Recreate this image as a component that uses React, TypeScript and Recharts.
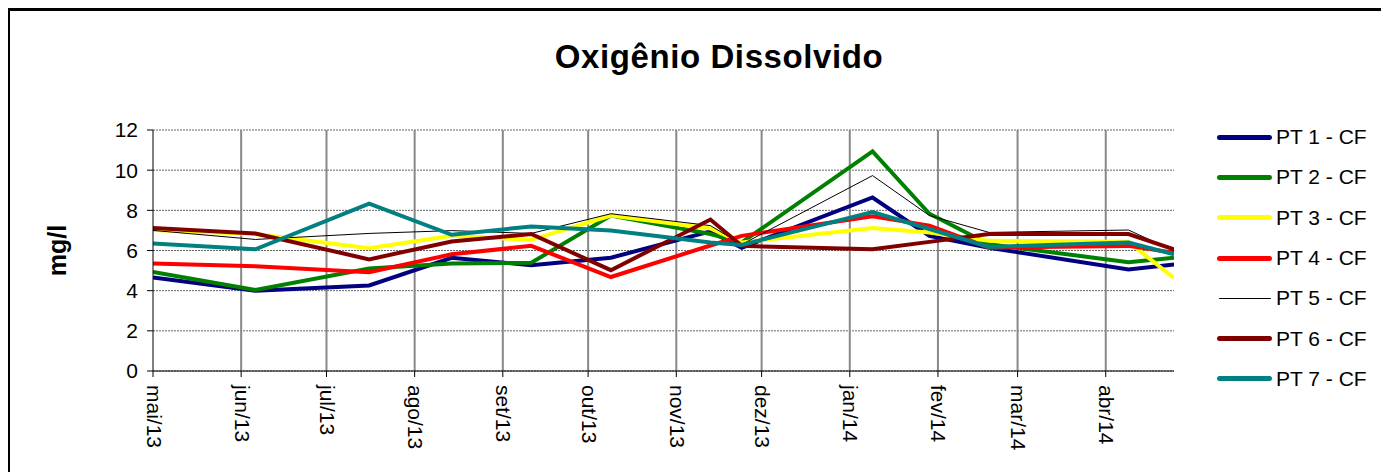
import { LineChart, Line, XAxis, YAxis, CartesianGrid, ReferenceLine } from 'recharts'

// days counted from 01/05/2013
const sampleDays = [0, 36, 76, 105, 133, 161, 196, 207, 253, 273, 294, 343, 359]

const monthTicks = [0, 31, 61, 92, 123, 153, 184, 214, 245, 276, 304, 335]
const monthLabels = ['mai/13', 'jun/13', 'jul/13', 'ago/13', 'set/13', 'out/13', 'nov/13', 'dez/13', 'jan/14', 'fev/14', 'mar/14', 'abr/14']

const yTicks = [0, 2, 4, 6, 8, 10, 12]

const pt1 = [4.66, 4.0, 4.26, 5.64, 5.27, 5.64, 6.95, 6.14, 8.64, 6.73, 6.14, 5.05, 5.3]
const pt2 = [4.93, 4.04, 5.1, 5.35, 5.39, 7.74, 6.82, 6.4, 10.94, 7.83, 6.31, 5.42, 5.64]
const pt3 = [7.02, 6.82, 6.11, 6.73, 6.53, 7.74, 7.1, 6.4, 7.12, 6.9, 6.48, 6.43, 4.63]
const pt4 = [5.35, 5.22, 4.92, 5.81, 6.23, 4.68, 6.25, 6.73, 7.71, 7.24, 6.14, 6.23, 5.89]
const pt5 = [7.0, 6.55, 6.85, 6.99, 6.85, 7.83, 7.24, 6.3, 9.73, 7.74, 6.9, 7.02, 5.98]
const pt6 = [7.12, 6.85, 5.56, 6.45, 6.82, 5.02, 7.54, 6.23, 6.06, 6.43, 6.82, 6.82, 6.06]
const pt7 = [6.35, 6.06, 8.33, 6.78, 7.2, 6.99, 6.4, 6.28, 7.91, 7.07, 6.18, 6.4, 5.81]

const series = [
  { key: 'pt1', name: 'PT 1 - CF', values: pt1, color: '#000080', width: 4 },
  { key: 'pt2', name: 'PT 2 - CF', values: pt2, color: '#008000', width: 4 },
  { key: 'pt3', name: 'PT 3 - CF', values: pt3, color: '#FFFF00', width: 4 },
  { key: 'pt4', name: 'PT 4 - CF', values: pt4, color: '#FF0000', width: 4 },
  { key: 'pt5', name: 'PT 5 - CF', values: pt5, color: '#000000', width: 1 },
  { key: 'pt6', name: 'PT 6 - CF', values: pt6, color: '#800000', width: 4 },
  { key: 'pt7', name: 'PT 7 - CF', values: pt7, color: '#008080', width: 4 },
]

const chartData = sampleDays.map((day, i) => {
  const row: any = { day }
  series.forEach(s => { row[s.key] = s.values[i] })
  return row
})

const FONT = '"Liberation Sans", Arial, sans-serif'

const MonthTick = (props: any) => {
  const { x, y, payload } = props
  const idx = monthTicks.indexOf(payload.value)
  return (
    <text
      transform={`translate(${x + 1},${y + 6}) rotate(90)`}
      textAnchor="start"
      dominantBaseline="central"
      fontSize={21}
      fontFamily={FONT}
      fill="#000"
    >
      {monthLabels[idx]}
    </text>
  )
}

export default function App() {
  return (
    <div
      style={{
        position: 'relative',
        width: 1375,
        height: 480,
        borderTop: '3px solid #000',
        borderLeft: '2px solid #000',
        borderRight: '2px solid #000',
        background: '#fff',
        fontFamily: FONT,
      }}
    >
      <div
        style={{
          position: 'absolute',
          left: 0,
          width: 1418,
          top: 27,
          textAlign: 'center',
          fontSize: 33,
          fontWeight: 'bold',
          letterSpacing: 0.6,
        }}
      >
        Oxigênio Dissolvido
      </div>
      <div style={{ position: 'absolute', left: 0, top: 0 }}>
        <LineChart
          width={1375}
          height={460}
          data={chartData}
          margin={{ top: 119, right: 211, bottom: 8, left: 0 }}
        >
          <CartesianGrid vertical={false} stroke="#666" strokeDasharray="2 1" />
          {monthTicks.slice(1).map(t => (
            <ReferenceLine key={t} x={t} stroke="#888" strokeWidth={2} />
          ))}
          <XAxis
            dataKey="day"
            type="number"
            domain={[0, 359]}
            ticks={monthTicks}
            interval={0}
            tick={<MonthTick />}
            tickSize={6}
            height={92}
            stroke="#000"
            allowDataOverflow
          />
          <YAxis
            domain={[0, 12]}
            ticks={yTicks}
            width={143}
            tickSize={6}
            tickMargin={9}
            stroke="#000"
            tick={{ fontSize: 21, fill: '#000', fontFamily: FONT }}
            label={{
              value: 'mg/l',
              angle: -90,
              position: 'insideLeft',
              offset: 47,
              style: { fontSize: 25, fontWeight: 'bold', fill: '#000', fontFamily: FONT, textAnchor: 'middle' },
            }}
          />
          {series.map(s => (
            <Line
              key={s.key}
              type="linear"
              dataKey={s.key}
              name={s.name}
              stroke={s.color}
              strokeWidth={s.width}
              dot={false}
              activeDot={false}
              isAnimationActive={false}
            />
          ))}
        </LineChart>
      </div>
      <div style={{ position: 'absolute', left: 1207, top: 106 }}>
        {series.map(s => (
          <div key={s.key} style={{ display: 'flex', alignItems: 'center', height: 40.3 }}>
            <div
              style={{
                width: s.width > 1 ? 55 : 52,
                height: s.width > 1 ? 5 : 1,
                background: s.color,
                borderRadius: 3,
                marginLeft: s.width > 1 ? 0 : 2,
                marginRight: s.width > 1 ? 4 : 5,
              }}
            />
            <span style={{ fontSize: 21 }}>{s.name}</span>
          </div>
        ))}
      </div>
    </div>
  )
}
